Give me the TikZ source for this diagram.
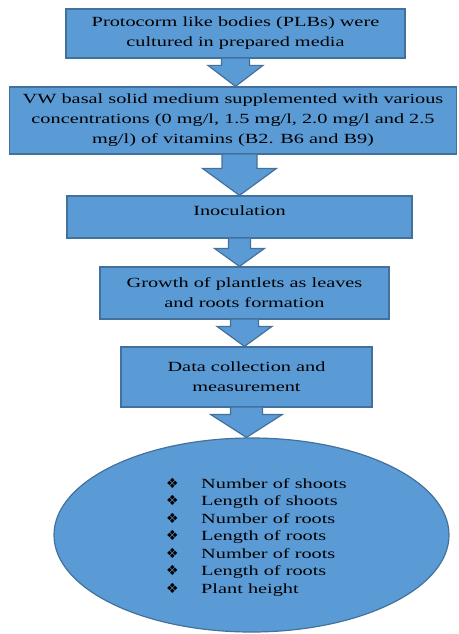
\documentclass[tikz,border=0pt]{standalone}
\usepackage{fontspec}
\setmainfont{Liberation Serif}[FakeStretch=1.45]
\newfontfamily\bulfont{DejaVu Sans}
\usetikzlibrary{shapes.geometric,calc}
\definecolor{boxblue}{HTML}{5B9BD5}
\definecolor{edgeblue}{HTML}{41719C}
\newcommand{\bul}{{\bulfont\fontsize{14}{14}\selectfont ❖}}
\newcommand{\flowarrow}[5]{%
  \filldraw[arrowshape] let \p1 = (#1), \p2 = (#2) in
    (\x1-#3,\y1) -- (\x1-#3,\y2+#5) -- (\x1-#4,\y2+#5) -- (\x1,\y2)
    -- (\x1+#4,\y2+#5) -- (\x1+#3,\y2+#5) -- (\x1+#3,\y1);}
\begin{document}
\begin{tikzpicture}
            [x = 1pt, y = -1pt,
             stepbox/.style = {draw = edgeblue, fill = boxblue, line width = 1.2pt,
                               align = center, inner sep = 0pt,
                               font = \fontsize{14}{20}\selectfont},
             arrowshape/.style = {draw = edgeblue, fill = boxblue, line width = 1.2pt, line join = miter},
             itemlist/.style = {align = left, inner sep = 0pt,
                                font = \fontsize{14}{17.5}\selectfont}]
            \useasboundingbox (0,0) rectangle (458,634);
            \node[stepbox, minimum width = 339pt, minimum height = 49pt] (plb) at (235.5,33.5)
                {Protocorm like bodies (PLBs) were\\cultured in prepared media};
            \node[stepbox, minimum width = 447pt, minimum height = 67pt] (medium) at (233,120.5)
                {VW basal solid medium supplemented with various\\concentrations (0 mg/l, 1.5 mg/l, 2.0 mg/l and 2.5\\mg/l) of vitamins (B2. B6 and B9)};
            \node[stepbox, minimum width = 345pt, minimum height = 42pt, text depth = 13pt] (inoc) at (239.5,217)
                {Inoculation};
            \node[stepbox, minimum width = 289pt, minimum height = 52pt] (growth) at (244.5,293)
                {Growth of plantlets as leaves\\and roots formation};
            \node[stepbox, minimum width = 251pt, minimum height = 60pt] (data) at (246.5,377)
                {Data collection and\\measurement};
            \node[ellipse, draw = edgeblue, fill = boxblue, line width = 1.2pt,
                  minimum width = 395pt, minimum height = 194pt] (params) at (251.5,535) {};
            \node[itemlist, anchor = west] (items) at (166,537)
                {\makebox[35pt][l]{\bul}Number of shoots\\
                 \makebox[35pt][l]{\bul}Length of shoots\\
                 \makebox[35pt][l]{\bul}Number of roots\\
                 \makebox[35pt][l]{\bul}Length of roots\\
                 \makebox[35pt][l]{\bul}Number of roots\\
                 \makebox[35pt][l]{\bul}Length of roots\\
                 \makebox[35pt][l]{\bul}Plant height};
            \flowarrow{plb.south}{medium.north}{14pt}{27.5pt}{21pt}
            \flowarrow{medium.south -| inoc.north}{inoc.north}{17.5pt}{37pt}{27pt}
            \flowarrow{inoc.south}{growth.north}{11pt}{25pt}{18pt}
            \flowarrow{growth.south}{data.north}{14pt}{27.5pt}{20pt}
            \flowarrow{data.south}{params.north}{16pt}{36pt}{23pt}
        \end{tikzpicture}
\end{document}
